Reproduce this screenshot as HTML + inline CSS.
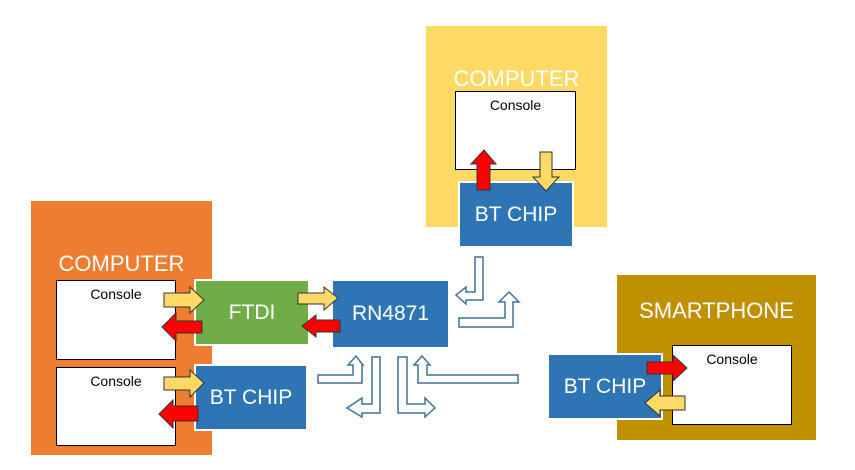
<!DOCTYPE html>
<html><head><style>
body{margin:0;width:855px;height:470px;background:#fff;overflow:hidden;position:relative;font-family:"Liberation Sans",sans-serif}
.b{position:absolute;box-sizing:border-box}
.t{color:#fff;font-size:22px;text-align:center;position:absolute}
.c{background:#fff;border:1.5px solid #000;font-size:14px;text-align:center;padding-top:5px}
.chip{color:#fff;font-size:21px;display:flex;align-items:center;justify-content:center;border:2px solid #fff}
</style></head><body>
<div class="b" style="left:31px;top:201px;width:181px;height:254px;background:#ed7d31"></div>
<div class="t" style="left:31px;top:251px;width:181px">COMPUTER</div>
<div class="b c" style="left:56px;top:280px;width:120px;height:80px">Console</div>
<div class="b c" style="left:56px;top:367px;width:120px;height:79px">Console</div>
<div class="b chip" style="left:194px;top:279px;width:116px;height:67px;background:#70ad47">FTDI</div>
<div class="b chip" style="left:194px;top:364px;width:114px;height:67px;background:#2e75b6">BT CHIP</div>
<div class="b chip" style="left:333px;top:281px;width:115px;height:66px;background:#2e75b6;border:none">RN4871</div>

<div class="b" style="left:426px;top:26px;width:181px;height:201px;background:#ffd966"></div>
<div class="t" style="left:426px;top:66px;width:181px">COMPUTER</div>
<div class="b c" style="left:455px;top:91px;width:121px;height:79px">Console</div>
<div class="b chip" style="left:458px;top:181px;width:116px;height:67px;background:#2e75b6">BT CHIP</div>

<div class="b" style="left:617px;top:275px;width:199px;height:165px;background:#bf9000"></div>
<div class="t" style="left:617px;top:298px;width:199px">SMARTPHONE</div>
<div class="b c" style="left:672px;top:345px;width:120px;height:80px">Console</div>
<div class="b chip" style="left:547px;top:353px;width:116px;height:67px;background:#2e75b6">BT CHIP</div>

<svg class="b" style="left:0;top:0" width="855" height="470">
<g stroke="#333" stroke-width="1">
<polygon fill="#ffd966" points="164,293 190,293 190,287 204,300 190,313 190,307 164,307"/>
<polygon fill="#ffd966" points="298,293 324,293 324,287 338,298 324,310 324,304 298,304"/>
<polygon fill="#ffd966" points="164,377 190,377 190,370 204,383 190,397 190,390 164,390"/>
<polygon fill="#f00" points="202,321 176,321 176,313 162,327 176,341 176,333 202,333"/>
<polygon fill="#f00" points="340,320 316,320 316,315 302,326 316,337 316,332 340,332"/>
<polygon fill="#f00" points="198,406 173,406 173,400 159,414 173,428 173,421 198,421"/>
<polygon fill="#f00" points="477,190 477,164 471,164 484,150 496,164 490,164 490,190"/>
<polygon fill="#ffd966" points="540,152 552,152 552,177 559,177 546,191 533,177 540,177"/>
<polygon fill="#f00" points="647,362 673,362 673,355 687,368 673,381 673,374 647,374"/>
<polygon fill="#ffd966" points="685,396 660,396 660,390 645,403 660,416 660,410 685,410"/>
</g>
<g fill="#fff" stroke="#41719c" stroke-width="1.5">
<polygon points="475,257 483,257 483,300 466,300 466,304 456,295 466,287 466,292 475,292"/>
<polygon points="459,318 505,318 505,302 499,302 509,292 519,302 513,302 513,327 459,327"/>
<polygon points="318,375 353,375 353,365 348,365 356,356 363,365 362,365 362,383 318,383"/>
<polygon points="372,357 380,357 380,413 362,413 362,417 347,408 362,398 362,404 372,404"/>
<polygon points="398,357 407,357 407,404 425,404 425,398 435,408 425,417 425,413 398,413"/>
<polygon points="518,375 427,375 427,365 430,365 422,356 414,365 418,365 418,383 518,383"/>
</g>
</svg>
</body></html>
